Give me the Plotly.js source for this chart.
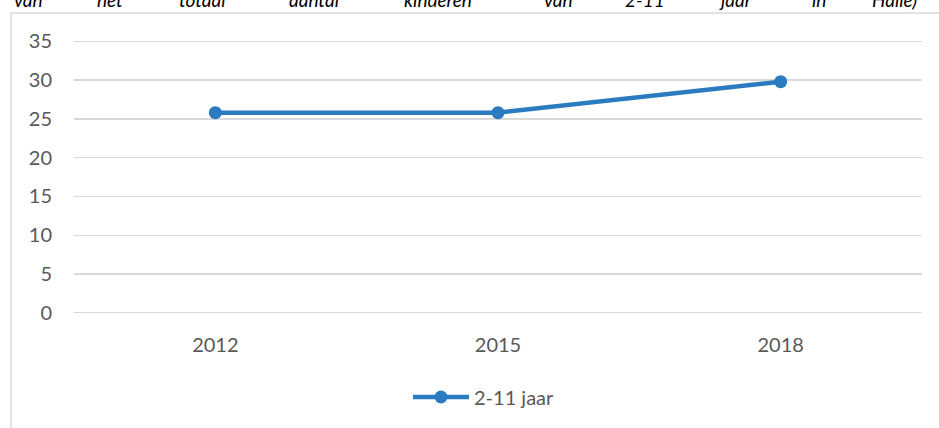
<!DOCTYPE html>
<html><head><meta charset="utf-8">
<script src="https://cdn.plot.ly/plotly-3.0.1.min.js"></script>
<style>html,body{margin:0;padding:0;background:#fff;}#chart{width:939px;height:428px;}</style>
</head><body><div id="chart"></div>
<script>
const years = ["2012", "2015", "2018"];
const values = [25.8, 25.8, 29.8];
const seriesName = "2-11 jaar";
const yTicks = [0, 5, 10, 15, 20, 25, 30, 35];
const headerWords = ["van", "het", "totaal", "aantal", "kinderen", "van", "2-11", "jaar", "in", "Halle)"];
const headerX = [12, 95, 177, 287, 402, 542, 623, 717, 810, 870];

const L = 74, R = 17, T = 39, B = 113, W = 939, H = 428;
const pw = W - L - R, ph = H - T - B;
const px = v => (v - L) / pw;
const py = v => 1 - (v - T) / ph;

const annotations = headerWords.map((w, i) => ({
  text: w, xref: 'paper', yref: 'paper', x: px(headerX[i]), y: py(13), xanchor: 'left', yanchor: 'bottom',
  showarrow: false, font: {family: 'Lato, sans-serif', size: 19, color: '#000', style: 'italic'}
}));

const trace = {
  x: years, y: values, name: seriesName, type: 'scatter', mode: 'lines+markers',
  line: {color: '#2A7BC0', width: 4.5}, marker: {color: '#2A7BC0', size: 13}
};

const layout = {
  width: W, height: H, margin: {l: L, r: R, t: T, b: B},
  paper_bgcolor: '#fff', plot_bgcolor: '#fff',
  font: {family: 'Lato, sans-serif', size: 20, color: '#595959'},
  showlegend: true,
  legend: {orientation: 'h', x: 0.5 - 14 / pw, xanchor: 'center', y: py(397), yanchor: 'middle', itemwidth: 56,
    font: {size: 20, color: '#595959'}},
  xaxis: {type: 'category', range: [-0.5, 2.5], showgrid: false, zeroline: false, showline: false,
    ticks: '', ticklabelstandoff: 16, fixedrange: true},
  yaxis: {range: [-0.3, 35.3], tickvals: yTicks, showgrid: true, gridcolor: '#d9d9d9', gridwidth: 1.3,
    zeroline: false, showline: false, ticks: '', ticklabelstandoff: 21, fixedrange: true},
  shapes: [{type: 'rect', xref: 'paper', yref: 'paper', x0: px(11), x1: px(960), y0: py(13), y1: py(460),
    line: {color: '#d9d9d9', width: 1.5}, fillcolor: 'rgba(0,0,0,0)', layer: 'below'}],
  annotations: annotations
};

Plotly.newPlot('chart', [trace], layout, {displayModeBar: false, staticPlot: true});
</script></body></html>
